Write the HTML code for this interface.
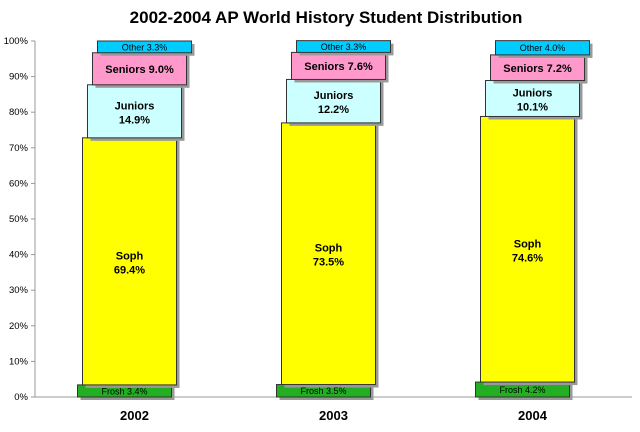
<!DOCTYPE html>
<html><head><meta charset="utf-8"><style>
body{margin:0;background:#fff;font-family:"Liberation Sans",Arial,sans-serif}
svg text{font-family:"Liberation Sans",Arial,sans-serif}
</style></head><body>
<svg id="c" width="640" height="427" xmlns="http://www.w3.org/2000/svg">
<text x="326" y="23" text-anchor="middle" font-size="17" font-weight="bold">2002-2004 AP World History Student Distribution</text>
<g id="axes"></g><g id="bars"></g>
</svg>
<script>
const years = ["2002","2003","2004"];
const groups = ["Frosh","Soph","Juniors","Seniors","Other"];
const frosh = [3.4,3.5,4.2];
const soph = [69.4,73.5,74.6];
const juniors = [14.9,12.2,10.1];
const seniors = [9.0,7.6,7.2];
const other = [3.3,3.3,4.0];
const yTicks = [0,10,20,30,40,50,60,70,80,90,100];
const colors = ["#22b022","#ffff00","#ccffff","#ff99cc","#00ccff"];
const NS="http://www.w3.org/2000/svg";
const x0=35,x1=632,y0=397,y100=41;
const y=v=>y0-(v/100)*(y0-y100);
const bw=(x1-x0)/3;
const cx=i=>x0+bw*(i+0.5);
function mk(t,a,p){const e=document.createElementNS(NS,t);for(const k in a)e.setAttribute(k,a[k]);p.appendChild(e);return e;}
const ax=document.getElementById('axes'),bg=document.getElementById('bars');
let l=mk('line',{x1:x0,y1:y100,x2:x0,y2:y0,stroke:'#999'},ax);


l=mk('line',{x1:x0,y1:y0,x2:x1,y2:y0,stroke:'#999'},ax);


yTicks.forEach(t=>{
  mk('line',{x1:x0-4,y1:y(t),x2:x0,y2:y(t),stroke:'#999'},ax);
  const tx=mk('text',{x:x0-7,y:y(t)+3,'text-anchor':'end','font-size':'9.5'},ax);
  tx.textContent=t+'%';
  
  
});
const series=[frosh,soph,juniors,seniors,other];
years.forEach((yr,i)=>{
  const t=mk('text',{x:cx(i),y:420,'text-anchor':'middle','font-size':'13','font-weight':'bold'},ax);
  t.textContent=yr;
  
  
  let cum=0;
  series.forEach((s,k)=>{
    const v=s[i],top=y(cum+v),bot=y(cum);cum+=v;
    const c=cx(i)+(k-2)*5, w=94;
    mk('rect',{x:c-w/2+3,y:top+3,width:w,height:bot-top,fill:'#999'},bg);
    const r=mk('rect',{x:c-w/2,y:top,width:w,height:bot-top,fill:colors[k],stroke:'#333','stroke-width':1},bg);
    
    
    const lab=groups[k]+' '+v.toFixed(1)+'%';
    const mid=(top+bot)/2;
    if(k==1||k==2){
      const a=mk('text',{x:c,y:mid-2,'text-anchor':'middle','font-size':'11','font-weight':'bold'},bg);a.textContent=groups[k];
      
      
      const b=mk('text',{x:c,y:mid+12,'text-anchor':'middle','font-size':'11','font-weight':'bold'},bg);b.textContent=v.toFixed(1)+'%';
      
      
    } else {
      const fs=k==3?11:9;
      const a=mk('text',{x:c,y:mid+fs*0.38,'text-anchor':'middle','font-size':fs,'font-weight':k==3?'bold':'normal'},bg);a.textContent=lab;
      
      
    }
  });
});
</script>
</body></html>
